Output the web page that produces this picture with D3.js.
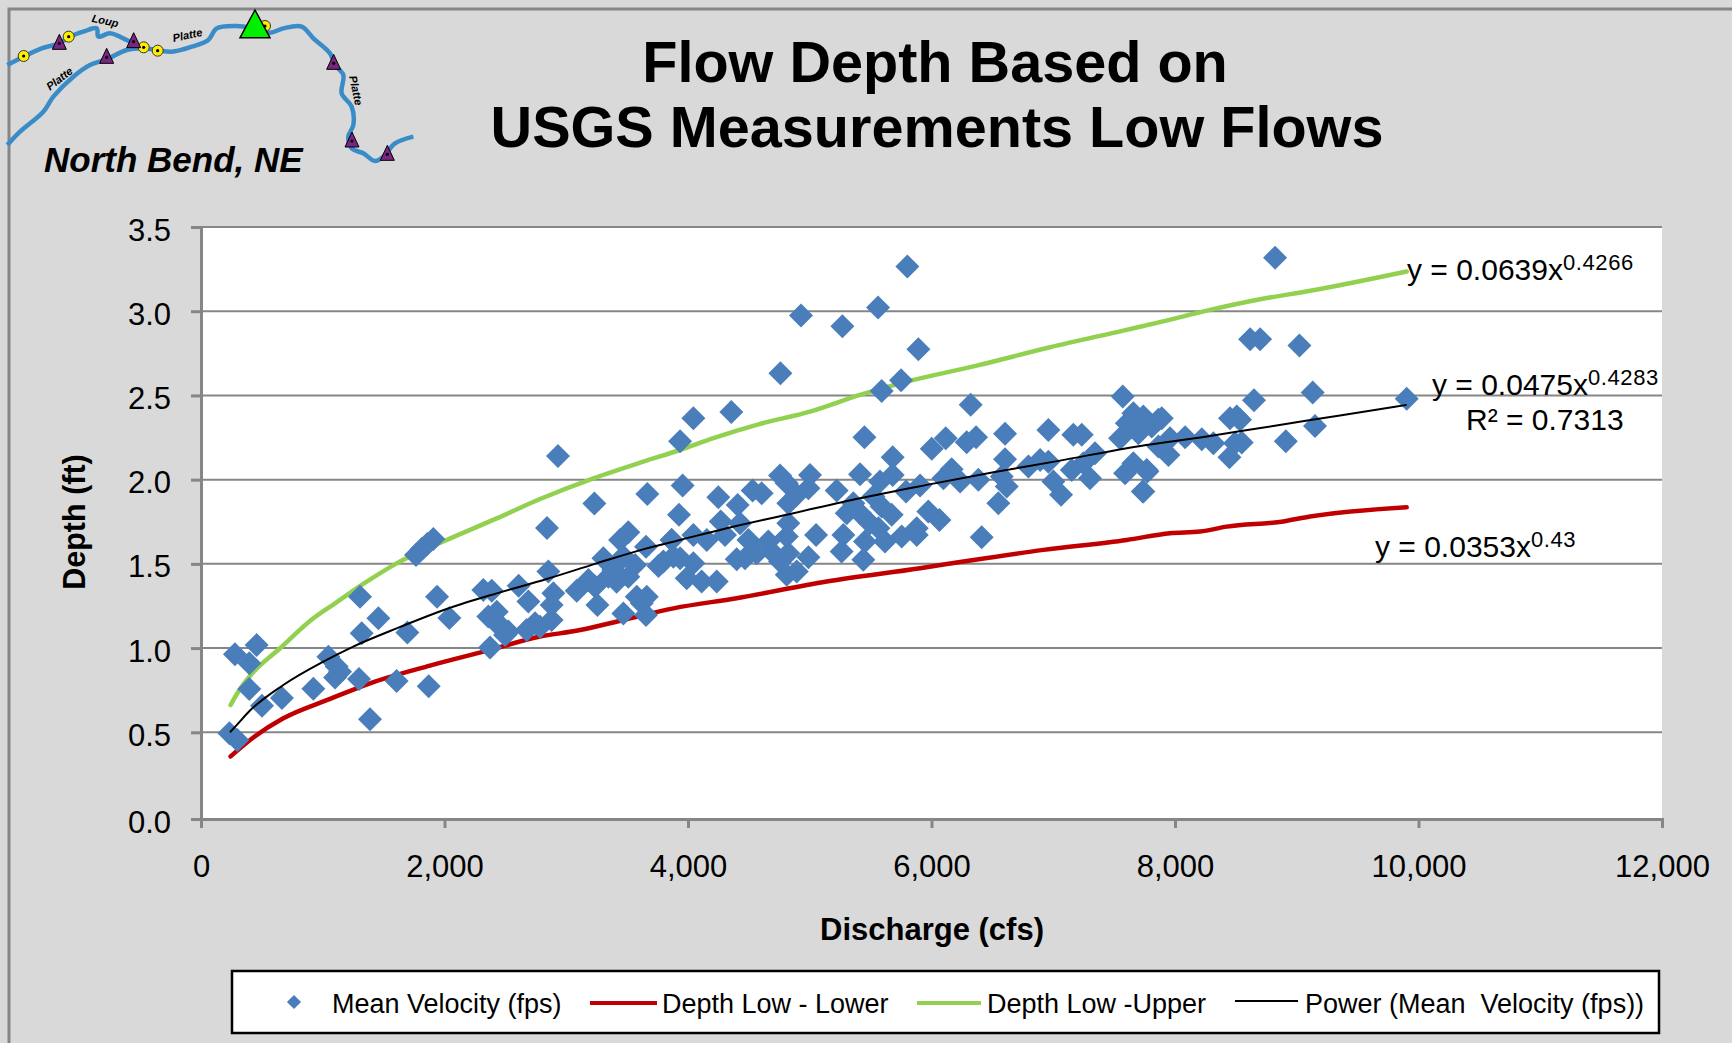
<!DOCTYPE html>
<html><head><meta charset="utf-8">
<script src="https://d3js.org/d3.v7.min.js"></script>
<style>
html,body{margin:0;padding:0;background:#d9d9d9;overflow:hidden}
svg{display:block}
text{font-family:"Liberation Sans",Arial,sans-serif;fill:#000}
</style></head><body><svg id="c" width="1732" height="1043"></svg>
<script>
const dischargeCfs=[233,298,279,457,397,397,501,665,923,1046,1114,1142,1101,1298,1607,1388,1870,1306,1457,1320,1695,1939,2040,1766,1813,1859,1908,2932,3231,3666,2842,2853,2319,2388,2609,2374,2689,2894,2880,2360,2429,2415,2470,2524,2497,2675,2744,2785,2880,3086,3182,3236,3305,3387,3346,3414,3510,3565,3469,3510,3442,3655,3757,3866,3880,3256,3469,3579,3661,3655,3620,3442,
5802,4928,5268,5561,5892,4759,5750,5591,4044,3935,4356,5449,6322,6604,6960,7165,7234,7571,7658,7740,7604,7549,7699,7809,7864,7343,7248,7152,7302,7590,7658,7773,7735,6960,6892,6796,6604,6577,6618,6549,7001,7064,6412,6366,6289,6117,6002,6166,6098,6235,6385,5906,5791,5681,5681,5577,5413,5221,5974,6065,5879,5879,5755,5673,5591,5523,5358,5304,5413,5495,5564,5618,5454,5440,5262,5276,5052,4989,4893,4811,4824,4756,4811,4824,4824,5002,4989,4893,4811,4756,4605,4531,4408,4249,3956,3926,4269,4427,4496,4660,4564,4468,4400,4701,4304,4154,4044,3866,3935,3798,4044,3989,4112,4236,
8822,8617,8699,9022,9131,9903,8649,9150,8910,8452,8534,8507,8548,8493,8447,8315,8220,8083,7959,7946,7864,7891,7781,7768,7740];
const depthFt=[.494,.455,.963,1.018,.91,.757,.658,.704,.759,.949,.89,.86,.826,.817,.805,.577,.773,1.305,1.177,1.088,1.092,1.305,1.179,1.553,1.588,1.618,1.648,2.14,1.858,1.915,1.713,1.454,1.345,1.341,1.37,1.003,1.276,1.325,1.256,1.187,1.216,1.157,1.127,1.098,1.078,1.107,1.147,1.127,1.167,1.341,1.404,1.365,1.533,1.464,1.424,1.394,1.424,1.493,1.543,1.687,1.642,1.602,1.487,1.642,1.543,1.256,1.206,1.305,1.305,1.197,1.266,1.523,
3.265,2.974,2.911,3.022,2.774,2.632,2.59,2.527,2.365,2.228,2.402,2.252,2.444,2.272,2.295,2.266,2.266,2.493,2.394,2.375,2.335,2.246,2.276,2.315,2.355,2.157,2.098,2.058,2.009,2.038,2.098,2.048,1.929,2.107,2.117,2.078,2.121,2.018,1.959,1.86,1.989,1.91,1.658,2.252,2.222,2.246,2.183,2.062,2.009,1.989,1.999,1.965,1.929,2.133,2.028,1.989,2.032,1.935,1.811,1.761,1.712,1.672,1.662,1.791,1.84,1.9,1.86,1.801,1.801,1.741,1.712,1.633,1.633,1.524,1.573,1.672,1.672,1.54,1.454,1.435,1.563,1.514,1.662,1.741,1.86,2.028,1.949,1.91,1.979,2.024,1.919,1.935,1.85,1.896,1.965,1.791,1.751,1.741,1.642,1.633,1.563,1.533,1.528,1.563,1.672,1.642,1.672,1.642,1.533,1.514,1.504,1.415,1.395,1.395,
3.318,2.834,2.834,2.796,2.518,2.48,2.472,2.319,2.228,2.365,2.355,2.375,2.22,2.216,2.133,2.216,2.24,2.252,2.246,2.147,2.197,2.365,2.335,2.058,1.929];
const upperX=[243,306,397,649,923,1101,1361,1607,2018,2429,2785,3223,3633,3935,4209,4593,5002,5413,5796,6371,6974,7575,7876,8288,8699,9123,9903];
const upperY=[.662,.741,.83,.999,1.177,1.266,1.394,1.503,1.642,1.77,1.885,2.008,2.107,2.176,2.246,2.331,2.404,2.503,2.582,2.677,2.786,2.885,2.935,3.008,3.071,3.123,3.236];
const lowerX=[243,430,676,1060,1388,1881,2374,2757,3113,3469,3880,4400,5139,5906,6317,6919,7604,7959,8206,8425,8890,9109,9903];
const lowerY=[.361,.47,.583,.698,.791,.896,.989,1.064,1.107,1.167,1.236,1.296,1.395,1.474,1.52,1.583,1.642,1.682,1.692,1.721,1.752,1.781,1.836];
const trendX=[238,293,402,676,1005,1251,1607,2018,2429,2839,3250,3661,3935,4318,4866,5413,5961,6509,7056,7604,8261,8808,9355,9903];
const trendY=[.5,.543,.629,.781,.92,1.009,1.117,1.232,1.325,1.41,1.503,1.592,1.642,1.712,1.801,1.89,1.969,2.044,2.113,2.187,2.256,2.319,2.381,2.444];
const xTicks=[0,2000,4000,6000,8000,10000,12000];
const yTicks=[0,.5,1,1.5,2,2.5,3,3.5];
const titleLines=["Flow Depth Based on","USGS Measurements Low Flows"];
const legendLabels=["Mean Velocity (fps)","Depth Low - Lower","Depth Low -Upper","Power (Mean  Velocity (fps))"];
// inset locator map (drawn on a 1320-wide source grid)
const platteRiver=[[22,435],[60,395],[130,335],[160,290],[220,230],[270,195],[320,178],[380,150],[430,145],[470,150],[515,155],[575,140],[625,120],[650,85],[710,78],[760,85],[810,98],[850,85],[905,80],[940,115],[990,160],[1005,195],[1030,225],[1025,280],[1055,320],[1060,375],[1045,410],[1055,445],[1090,460],[1125,483],[1150,470],[1185,430],[1240,410]];
const loupRiver=[[22,195],[70,170],[125,145],[178,130],[210,110],[250,95],[290,85],[295,110],[330,100],[380,120],[400,130],[430,145]];
const gaugeTriangles=[[178,130],[320,172],[401,125],[1001,190],[1056,423],[1162,463]];
const gaugeCircles=[[795,78],[71,168],[206,110],[431,142],[473,152]];
const riverLabels=[["Loup",315,65,12],["Platte",180,238,-38],["Platte",563,108,-12],["Platte",1065,272,78]];

const svg=d3.select("#c");
const x=d3.scaleLinear().domain([0,12000]).range([201,1662]);
const y=d3.scaleLinear().domain([0,.5,3.5]).range([819,732.3,227]);
const gray="#868686";
svg.append("rect").attr("width",1732).attr("height",1043).attr("fill","#d9d9d9");
svg.append("path").attr("d","M9,1043V9H1732").attr("fill","none").attr("stroke",gray).attr("stroke-width",3);
svg.append("rect").attr("x",201).attr("y",227).attr("width",1461).attr("height",592).attr("fill","#fff");
svg.selectAll(".grid").data(yTicks.slice(1)).join("line").attr("x1",201).attr("x2",1662)
 .attr("y1",d=>y(d)).attr("y2",d=>y(d)).attr("stroke",gray).attr("stroke-width",2);

const line=d3.line().x(d=>x(d[0])).y(d=>y(d[1])).curve(d3.curveMonotoneX);
const zip=(a,b)=>a.map((v,i)=>[v,b[i]]);
svg.append("path").attr("d",line(zip(lowerX,lowerY))).attr("fill","none").attr("stroke","#c00000").attr("stroke-width",4.5).attr("stroke-linecap","round");
svg.append("path").attr("d",line(zip(upperX,upperY))).attr("fill","none").attr("stroke","#92d050").attr("stroke-width",4.5).attr("stroke-linecap","round");
const diamond=d3.symbol().type(d3.symbolSquare).size(288);
svg.selectAll(".pt").data(zip(dischargeCfs,depthFt)).join("path").attr("d",diamond)
 .attr("transform",d=>`translate(${x(d[0])},${y(d[1])}) rotate(45)`).attr("fill","#4a7ebb");
svg.append("path").attr("d",line(zip(trendX,trendY))).attr("fill","none").attr("stroke","#000").attr("stroke-width",2);

const gx=svg.append("g").attr("transform","translate(0,819)")
 .call(d3.axisBottom(x).tickValues(xTicks).tickFormat(d3.format(",")).tickSize(9).tickPadding(27));
const gy=svg.append("g").attr("transform","translate(201,0)")
 .call(d3.axisLeft(y).tickValues(yTicks).tickFormat(d3.format(".1f")).tickSize(10).tickPadding(20));
[gx,gy].forEach(g=>{g.selectAll("path,line").attr("stroke",gray).attr("stroke-width",3);
 g.selectAll("text").attr("font-family",'"Liberation Sans"').attr("font-size",31);});
gy.selectAll("text").attr("dy","0.42em");

titleLines.forEach((t,i)=>svg.append("text").text(t).attr("x",i?937:935).attr("y",i?147:82)
 .attr("text-anchor","middle").attr("font-weight","bold").attr("font-size",57.6));
svg.append("text").text("Discharge (cfs)").attr("x",932).attr("y",940).attr("text-anchor","middle").attr("font-weight","bold").attr("font-size",31);
svg.append("text").text("Depth (ft)").attr("transform","translate(85,522) rotate(-90)").attr("text-anchor","middle").attr("font-weight","bold").attr("font-size",30.5);

function eq(tx,ty,main,sup){const t=svg.append("text").attr("x",tx).attr("y",ty).attr("font-size",30);
 t.append("tspan").text(main);
 if(sup)t.append("tspan").text(sup).attr("font-size",22).attr("dy",-10).attr("letter-spacing",0.6);}
eq(1407,280,"y = 0.0639x","0.4266");
eq(1432,395,"y = 0.0475x","0.4283");
eq(1466,430,"R² = 0.7313");
eq(1375,557,"y = 0.0353x","0.43");

// legend
svg.append("rect").attr("x",232).attr("y",971).attr("width",1427).attr("height",62).attr("fill","#fff").attr("stroke","#000").attr("stroke-width",2.5);
svg.append("path").attr("d",d3.symbol().type(d3.symbolSquare).size(100)).attr("transform","translate(294,1002) rotate(45)").attr("fill","#4a7ebb");
[[590,657,"#c00000",4,1003],[917,981,"#92d050",4,1003],[1235,1298,"#000",2,1001]].forEach(s=>
 svg.append("line").attr("x1",s[0]).attr("x2",s[1]).attr("y1",s[4]).attr("y2",s[4]).attr("stroke",s[2]).attr("stroke-width",s[3]));
[332,662,987,1305].forEach((lx,i)=>svg.append("text").text(legendLabels[i]).attr("x",lx).attr("y",1013).attr("font-size",27).style("white-space","pre"));

// inset map
const m=d3.scaleLinear().domain([0,1320]).range([0,440]);
const mapLine=d3.line().x(d=>m(d[0])).y(d=>m(d[1])).curve(d3.curveCatmullRom);
[platteRiver,loupRiver].forEach(r=>svg.append("path").attr("d",mapLine(r)).attr("fill","none").attr("stroke","#3a8cc8").attr("stroke-width",4.5));
svg.selectAll(".gc").data(gaugeCircles).join("g").attr("transform",d=>`translate(${m(d[0])},${m(d[1])})`).each(function(){
 d3.select(this).append("circle").attr("r",5.5).attr("fill","#ffee00").attr("stroke","#333").attr("stroke-width",1);
 d3.select(this).append("circle").attr("r",1.6).attr("fill","#000");});
svg.selectAll(".gt").data(gaugeTriangles).join("g").attr("transform",d=>`translate(${m(d[0])},${m(d[1])})`).each(function(){
 d3.select(this).append("path").attr("d","M0,-9L7,6H-7Z").attr("fill","#7b2583").attr("stroke","#000").attr("stroke-width",1);
 d3.select(this).append("circle").attr("r",1.6).attr("fill","#000");});
svg.append("path").attr("d",d3.line()([[m(765),m(30)],[m(810),m(113)],[m(720),m(113)]])+"Z").attr("fill","#00f000").attr("stroke","#000").attr("stroke-width",1.5);
riverLabels.forEach(l=>svg.append("text").text(l[0]).attr("transform",`translate(${m(l[1])},${m(l[2])}) rotate(${l[3]})`)
 .attr("text-anchor","middle").attr("dominant-baseline","middle").attr("font-size",11).attr("font-style","italic").attr("font-weight","bold"));
svg.append("text").text("North Bend, NE").attr("x",44).attr("y",172).attr("font-size",35).attr("font-style","italic").attr("font-weight","bold");
</script></body></html>
